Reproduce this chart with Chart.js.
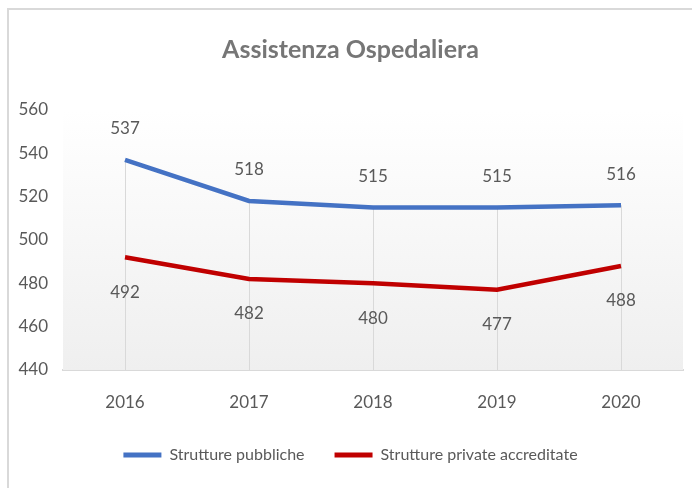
<!DOCTYPE html>
<html>
<head>
<meta charset="utf-8">
<script src="https://cdn.jsdelivr.net/npm/chart.js@4.4.1/dist/chart.umd.min.js"></script>
<style>
  body { margin: 0; background: #fff; overflow: hidden; }
  #wrap { position: relative; width: 692px; height: 488px; overflow: hidden; }
  #cornice { position: absolute; left: 7px; top: 8px; width: 700px; height: 500px;
             border-top: 2px solid #d9d9d9; border-left: 2px solid #d9d9d9; }
  canvas { position: absolute; left: 0; top: 0; }
</style>
</head>
<body>
<div id="wrap">
  <div id="cornice"></div>
  <canvas id="grafico" width="692" height="488"></canvas>
</div>
<script>
// dati
var anni = ["2016", "2017", "2018", "2019", "2020"];
var pubbliche = [537, 518, 515, 515, 516];
var private_accr = [492, 482, 480, 477, 488];
var tickY = [440, 460, 480, 500, 520, 540, 560];

var FONT = "Lato, 'DejaVu Sans Condensed', sans-serif";
var GRIGIO = "#595959";

// sfondo sfumato dell'area del grafico + linee di proiezione
var sfondoPlugin = {
  id: "sfondo",
  beforeDatasetsDraw: function (chart) {
    var ctx = chart.ctx, a = chart.chartArea;
    var g = ctx.createLinearGradient(0, a.top, 0, a.bottom);
    g.addColorStop(0, "#ffffff");
    g.addColorStop(1, "#efefef");
    ctx.save();
    ctx.fillStyle = g;
    ctx.fillRect(a.left, a.top, a.right - a.left, a.bottom - a.top);
    // drop lines dal punto più alto fino all'asse
    var m0 = chart.getDatasetMeta(0);
    ctx.strokeStyle = "#d9d9d9";
    ctx.lineWidth = 1;
    m0.data.forEach(function (p) {
      ctx.beginPath();
      ctx.moveTo(Math.round(p.x) + 0.5, p.y);
      ctx.lineTo(Math.round(p.x) + 0.5, a.bottom);
      ctx.stroke();
    });
    ctx.restore();
  }
};

// etichette dei valori
var etichettePlugin = {
  id: "etichette",
  afterDatasetsDraw: function (chart) {
    var ctx = chart.ctx;
    ctx.save();
    ctx.font = "17px " + FONT;
    ctx.fillStyle = GRIGIO;
    ctx.textAlign = "center";
    ctx.textBaseline = "middle";
    chart.data.datasets.forEach(function (ds, i) {
      var meta = chart.getDatasetMeta(i);
      var dy = i === 0 ? -31 : 35;
      meta.data.forEach(function (p, j) {
        ctx.fillText(ds.data[j], p.x, p.y + dy);
      });
    });
    ctx.restore();
  }
};

var ctx = document.getElementById("grafico");
var grafico = new Chart(ctx, {
  type: "line",
  data: {
    labels: anni,
    datasets: [
      {
        label: "Strutture pubbliche",
        data: pubbliche,
        borderColor: "#4472C4",
        backgroundColor: "#4472C4",
        borderWidth: 4.5,
        pointRadius: 0,
        tension: 0
      },
      {
        label: "Strutture private accreditate",
        data: private_accr,
        borderColor: "#C00000",
        backgroundColor: "#C00000",
        borderWidth: 4.5,
        pointRadius: 0,
        tension: 0
      }
    ]
  },
  options: {
    responsive: false,
    animation: false,
    layout: { padding: { left: 18, right: 9, top: 0, bottom: 15 } },
    scales: {
      x: {
        offset: true,
        grid: { display: false, drawTicks: false },
        border: { display: true, color: "#d9d9d9", width: 2 },
        ticks: { color: GRIGIO, font: { family: FONT, size: 17 }, padding: 22 },
        afterFit: function (s) { s.height = 47; }
      },
      y: {
        min: 440,
        max: 560,
        afterBuildTicks: function (s) {
          s.ticks = tickY.map(function (v) { return { value: v }; });
        },
        grid: { display: false, drawTicks: false },
        border: { display: false },
        ticks: { color: GRIGIO, font: { family: FONT, size: 17 }, padding: 15 },
        afterFit: function (s) { s.width = 45; }
      }
    },
    plugins: {
      title: {
        display: true,
        text: "Assistenza Ospedaliera",
        color: "#767676",
        font: { family: FONT, size: 25, weight: "bold" },
        padding: { top: 35, bottom: 45 }
      },
      legend: {
        position: "bottom",
        labels: {
          color: GRIGIO,
          font: { family: FONT, size: 16 },
          boxWidth: 38,
          boxHeight: 5,
          padding: 30,
          generateLabels: function (chart) {
            var l = Chart.defaults.plugins.legend.labels.generateLabels(chart);
            l.forEach(function (x) { x.lineWidth = 0; });
            return l;
          }
        }
      },
      tooltip: { enabled: false }
    }
  },
  plugins: [sfondoPlugin, etichettePlugin]
});
</script>
</body>
</html>
